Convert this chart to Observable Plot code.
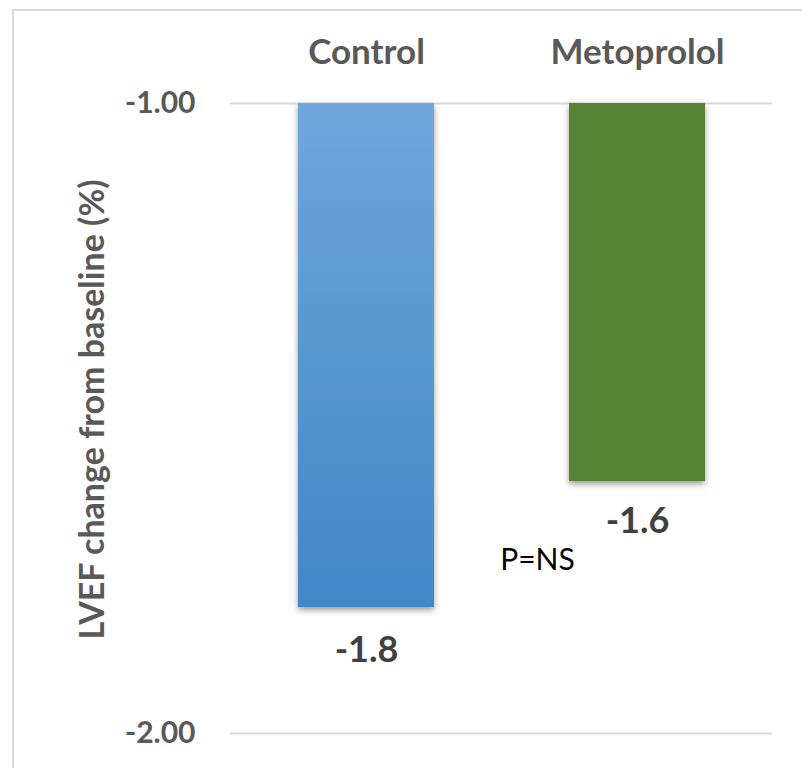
<!DOCTYPE html>
<html>
<head>
<meta charset="utf-8">
<script src="https://cdn.jsdelivr.net/npm/d3@7"></script>
<script src="https://cdn.jsdelivr.net/npm/@observablehq/plot@0.6"></script>
<style>
  html, body { margin: 0; padding: 0; background: #fff; }
  #wrap { position: relative; width: 802px; height: 768px; overflow: hidden; }
  #border { position: absolute; left: 12px; top: 9px; width: 900px; height: 900px; border: 2px solid #d9d9d9; box-sizing: border-box; }
  #chart { position: absolute; left: 0; top: 0; }
</style>
</head>
<body>
<div id="wrap"><div id="border"></div><div id="chart"></div></div>
<script>
const categories = ["Control", "Metoprolol"];
const values = [-1.8, -1.6];
const valueLabels = ["-1.8", "-1.6"];
const yTicks = [-1, -2];
const baseline = -1;
const yDomain = [-2, -1];
const yTitle = "LVEF change from baseline (%)";
const pText = "P=NS";

const data = categories.map((c, i) => ({cat: c, value: values[i], label: valueLabels[i]}));
const font = "Lato, 'Open Sans', 'Liberation Sans', Arial, sans-serif";

const svg = Plot.plot({
  width: 802, height: 768,
  marginTop: 103, marginBottom: 35, marginLeft: 230, marginRight: 30,
  style: {fontFamily: font, background: "transparent", overflow: "visible"},
  x: {domain: categories, paddingInner: 0.5, paddingOuter: 0.25, axis: null},
  y: {domain: yDomain, axis: null},
  color: {domain: categories, range: ["url(#ctrlGrad)", "#548235"]},
  marks: [
    Plot.gridY(yTicks, {stroke: "#d9d9d9", strokeWidth: 2, strokeOpacity: 1}),
    Plot.barY(data, {x: "cat", y1: baseline, y2: "value", fill: "cat"}),
    Plot.axisY(yTicks, {tickSize: 0, tickPadding: 35, tickFormat: d => d.toFixed(2), fontSize: 30, fontWeight: "bold", fill: "#595959", label: null}),
    Plot.axisX({anchor: "top", tickSize: 0, tickPadding: 40, fontSize: 35, fontWeight: "bold", fill: "#595959", label: null}),
    Plot.text(data.filter((d, i) => i === 0), {x: "cat", y: "value", text: "label", dy: 43, fontSize: 36, fontWeight: "bold", fill: "#404040"}),
    Plot.text(data.filter((d, i) => i === 1), {x: "cat", y: "value", text: "label", dy: 40, fontSize: 36, fontWeight: "bold", fill: "#404040"}),
    Plot.text([pText], {x: () => categories[1], y: () => values[1], text: d => d, dx: -100, dy: 79, fontSize: 30, fill: "#000"}),
    Plot.text([yTitle], {frameAnchor: "left", rotate: -90, textAnchor: "middle", dx: -137, dy: -9, text: d => d, fontSize: 34, fontWeight: "bold", fill: "#595959"})
  ]
});

const defs = d3.select(svg).insert("defs", ":first-child");
const g = defs.append("linearGradient").attr("id", "ctrlGrad").attr("x1", 0).attr("y1", 0).attr("x2", 0).attr("y2", 1);
g.append("stop").attr("offset", "0%").attr("stop-color", "#70a6dc");
g.append("stop").attr("offset", "100%").attr("stop-color", "#3f87c8");
const f = defs.append("filter").attr("id", "shadow").attr("x", "-20%").attr("y", "-20%").attr("width", "140%").attr("height", "140%");
f.append("feDropShadow").attr("dx", 0).attr("dy", 3).attr("stdDeviation", 3).attr("flood-color", "#000").attr("flood-opacity", 0.4);
d3.select(svg).selectAll("g[aria-label='bar'] rect").attr("filter", "url(#shadow)");

document.getElementById("chart").appendChild(svg);
</script>
</body>
</html>
